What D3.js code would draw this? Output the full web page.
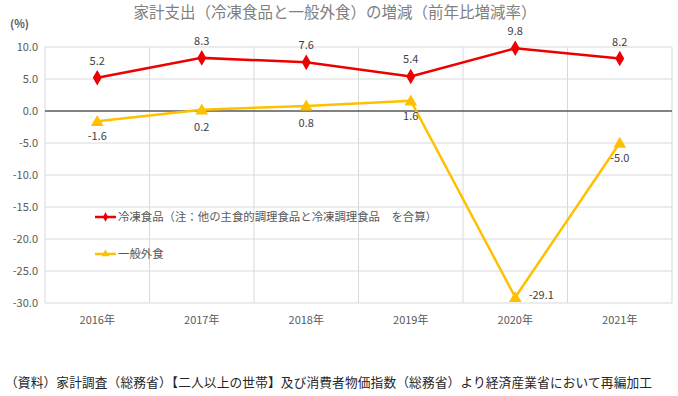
<!DOCTYPE html>
<html>
<head>
<meta charset="utf-8">
<script src="https://cdn.jsdelivr.net/npm/d3@7"></script>
<style>
  body { margin: 0; background: #fff; }
  text { font-family: "Noto Sans CJK JP", "Noto Sans", sans-serif; }
</style>
</head>
<body>
<div id="chart"></div>
<script>
const years = ["2016年", "2017年", "2018年", "2019年", "2020年", "2021年"];
const frozen = [5.2, 8.3, 7.6, 5.4, 9.8, 8.2];
const eatingOut = [-1.6, 0.2, 0.8, 1.6, -29.1, -5.0];
const yTicks = [10, 5, 0, -5, -10, -15, -20, -25, -30];

const width = 678, height = 396;
const plotL = 45, plotR = 672, plotT = 47, plotB = 303;

const svg = d3.select("#chart").append("svg")
  .attr("width", width)
  .attr("height", height);

const x = d3.scaleBand().domain(years).range([plotL, plotR]);
const y = d3.scaleLinear().domain([-30, 10]).range([plotB, plotT]);

// horizontal grid
svg.append("g").selectAll("line")
  .data(yTicks.filter(d => d !== 0))
  .enter().append("line")
  .attr("x1", plotL).attr("x2", plotR)
  .attr("y1", d => y(d)).attr("y2", d => y(d))
  .attr("stroke", "#d9d9d9").attr("stroke-width", 1);

// vertical grid
svg.append("g").selectAll("line")
  .data(years.map(d => x(d)).concat([plotR]))
  .enter().append("line")
  .attr("x1", d => d).attr("x2", d => d)
  .attr("y1", plotT).attr("y2", plotB)
  .attr("stroke", "#d9d9d9").attr("stroke-width", 1);

// zero line
svg.append("line")
  .attr("x1", plotL).attr("x2", plotR)
  .attr("y1", y(0)).attr("y2", y(0))
  .attr("stroke", "#595959").attr("stroke-width", 1.3);

// y axis labels
const yAxis = d3.axisLeft(y).tickValues(yTicks).tickFormat(d3.format(".1f")).tickSize(0).tickPadding(7);
const ya = svg.append("g").attr("transform", `translate(${plotL},0)`).call(yAxis);
ya.select(".domain").remove();
ya.selectAll("text").attr("fill", "#595959").style("font-size", "11px").text(d => d3.format(".1f")(d).replace("−", "-"));

// x axis labels
const xAxis = d3.axisBottom(x).tickSize(0).tickPadding(13);
const xa = svg.append("g").attr("transform", `translate(0,${plotB})`).call(xAxis);
xa.select(".domain").remove();
xa.selectAll("text").attr("fill", "#595959").style("font-size", "11px");

// title
svg.append("text")
  .attr("x", 335).attr("y", 18)
  .attr("text-anchor", "middle")
  .attr("fill", "#7f7f7f")
  .style("font-size", "15.5px")
  .text("家計支出（冷凍食品と一般外食）の増減（前年比増減率）");

svg.append("text")
  .attr("x", 10).attr("y", 28)
  .attr("fill", "#595959")
  .style("font-size", "11px")
  .style("font-weight", "bold")
  .text("(%)");

const cx = d => x(d) + x.bandwidth() / 2;
const line = d3.line().x(d => cx(d[0])).y(d => y(d[1]));

const red = "#ee0000", gold = "#ffc000";

// eating out line
svg.append("path")
  .datum(years.map((d, i) => [d, eatingOut[i]]))
  .attr("d", line)
  .attr("fill", "none").attr("stroke", gold).attr("stroke-width", 2.5);

svg.append("g").selectAll("path")
  .data(years.map((d, i) => [d, eatingOut[i]]))
  .enter().append("path")
  .attr("d", d3.symbol().type(d3.symbolTriangle).size(70))
  .attr("transform", d => `translate(${cx(d[0])},${y(d[1]) + 1})`)
  .attr("fill", gold);

// frozen line
svg.append("path")
  .datum(years.map((d, i) => [d, frozen[i]]))
  .attr("d", line)
  .attr("fill", "none").attr("stroke", red).attr("stroke-width", 2.5);

svg.append("g").selectAll("path")
  .data(years.map((d, i) => [d, frozen[i]]))
  .enter().append("path")
  .attr("d", d3.symbol().type(d3.symbolDiamond).size(70))
  .attr("transform", d => `translate(${cx(d[0])},${y(d[1])})`)
  .attr("fill", red);

// labels
svg.append("g").selectAll("text")
  .data(years.map((d, i) => [d, frozen[i]]))
  .enter().append("text")
  .attr("x", d => cx(d[0]))
  .attr("y", d => y(d[1]) - 13)
  .attr("text-anchor", "middle")
  .attr("fill", "#404040")
  .style("font-size", "11px")
  .text(d => d3.format(".1f")(d[1]));

const goldLabelOffset = [[0, 19], [0, 21], [0, 21], [0, 19], [26, 2], [0, 19]];
svg.append("g").selectAll("text")
  .data(years.map((d, i) => [d, eatingOut[i], goldLabelOffset[i]]))
  .enter().append("text")
  .attr("x", d => cx(d[0]) + d[2][0])
  .attr("y", d => y(d[1]) + d[2][1])
  .attr("text-anchor", "middle")
  .attr("fill", "#404040")
  .style("font-size", "11px")
  .text(d => d3.format(".1f")(d[1]).replace("−", "-"));

// legend
const legend = [
  { name: "冷凍食品（注：他の主食的調理食品と冷凍調理食品　を合算）", color: red, sym: d3.symbolDiamond, ly: 217 },
  { name: "一般外食", color: gold, sym: d3.symbolTriangle, ly: 254 }
];
const lg = svg.append("g").selectAll("g").data(legend).enter().append("g");
lg.append("line")
  .attr("x1", 95).attr("x2", 116)
  .attr("y1", d => d.ly).attr("y2", d => d.ly)
  .attr("stroke", d => d.color).attr("stroke-width", 2.5);
lg.append("path")
  .attr("d", d => d3.symbol().type(d.sym).size(25)())
  .attr("transform", d => `translate(105.5,${d.ly})`)
  .attr("fill", d => d.color);
lg.append("text")
  .attr("x", 118).attr("y", d => d.ly + 4)
  .attr("fill", "#595959")
  .style("font-size", "11.4px")
  .text(d => d.name);

// source note
svg.append("text")
  .attr("x", 5).attr("y", 387)
  .attr("fill", "#262626")
  .style("font-size", "12.7px")
  .attr("textLength", 647)
  .text("（資料）家計調査（総務省）【二人以上の世帯】及び消費者物価指数（総務省）より経済産業省において再編加工");
</script>
</body>
</html>
